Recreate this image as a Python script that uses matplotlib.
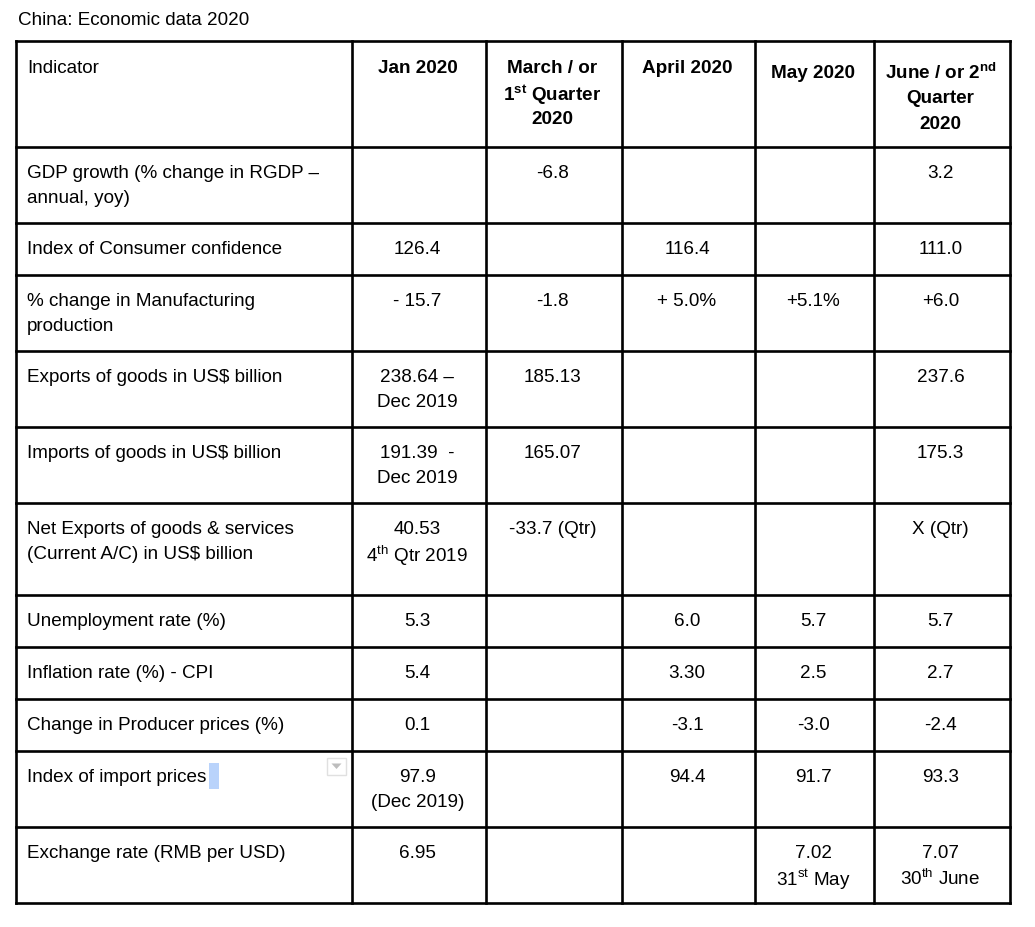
import matplotlib.pyplot as plt
from matplotlib.patches import Rectangle, Polygon

plt.rcParams["font.family"] = ["Liberation Sans", "DejaVu Sans"]
plt.rcParams["mathtext.fontset"] = "custom"
plt.rcParams["mathtext.rm"] = "Liberation Sans"
plt.rcParams["mathtext.bf"] = "Liberation Sans:bold"

# table content
title = "China: Economic data 2020"
headers = ["Indicator", "Jan 2020", "March / or\n1$^{\\mathbf{st}}$ Quarter\n2020",
           "April 2020", "May 2020", "June / or 2$^{\\mathbf{nd}}$\nQuarter\n2020"]
indicators = [
    "GDP growth (% change in RGDP –\nannual, yoy)",
    "Index of Consumer confidence",
    "% change in Manufacturing\nproduction",
    "Exports of goods in US\\$ billion",
    "Imports of goods in US\\$ billion",
    "Net Exports of goods & services\n(Current A/C) in US\\$ billion",
    "Unemployment rate (%)",
    "Inflation rate (%) - CPI",
    "Change in Producer prices (%)",
    "Index of import prices",
    "Exchange rate (RMB per USD)",
]
jan = ["", "126.4", "- 15.7", "238.64 –\nDec 2019", "191.39  -\nDec 2019",
       "40.53\n4$^{\\mathrm{th}}$ Qtr 2019", "5.3", "5.4", "0.1", "97.9\n(Dec 2019)", "6.95"]
march = ["-6.8", "", "-1.8", "185.13", "165.07", "-33.7 (Qtr)", "", "", "", "", ""]
april = ["", "116.4", "+ 5.0%", "", "", "", "6.0", "3.30", "-3.1", "94.4", ""]
may = ["", "", "+5.1%", "", "", "", "5.7", "2.5", "-3.0", "91.7",
       "7.02\n31$^{\\mathrm{st}}$ May"]
june = ["3.2", "111.0", "+6.0", "237.6", "175.3", "X (Qtr)", "5.7", "2.7", "-2.4", "93.3",
        "7.07\n30$^{\\mathrm{th}}$ June"]

# layout (pixels)
col_edges = [16, 352, 486, 622, 755, 874, 1010]
row_edges = [41, 147, 223, 275, 351, 427, 503, 595, 647, 699, 751, 827, 903]
header_offsets = [25, 25, 25, 25, 30, 30]
first_line = 24
line_gap = 25.5
fs = 13.6

fig = plt.figure(figsize=(10.35, 9.27), dpi=100)
ax = fig.add_axes([0, 0, 1, 1])
ax.set_xlim(0, 1035)
ax.set_ylim(927, 0)
ax.axis("off")

ax.text(18, 20, title, fontsize=fs, va="center", ha="left")

lw = 1.9
for x in col_edges:
    ax.plot([x, x], [row_edges[0], row_edges[-1]], color="black", lw=lw, solid_capstyle="projecting")
for y in row_edges:
    ax.plot([col_edges[0], col_edges[-1]], [y, y], color="black", lw=lw, solid_capstyle="projecting")


def cell(text, col, top, offset, bold=False):
    if not text:
        return
    if col == 0:
        x, ha = col_edges[0] + 11, "left"
    else:
        x, ha = (col_edges[col] + col_edges[col + 1]) / 2 - 1.5, "center"
    for i, line in enumerate(text.split("\n")):
        ax.text(x, top + offset + i * line_gap, line, fontsize=fs, ha=ha, va="center_baseline",
                fontweight="bold" if bold else "normal")


for c, h in enumerate(headers):
    cell(h, c, row_edges[0], header_offsets[c], bold=(c > 0))

columns = [indicators, jan, march, april, may, june]
for r in range(len(indicators)):
    for c, vals in enumerate(columns):
        cell(vals[r], c, row_edges[r + 1], first_line)

# dropdown marker and selection highlight from the source screenshot
ax.add_patch(Rectangle((327, 758), 19, 17, facecolor="white", edgecolor="#e0e0e0", lw=1))
ax.add_patch(Polygon([(331.5, 763.5), (341.5, 763.5), (336.5, 769)], closed=True,
                     facecolor="#bdbdbd", edgecolor="none"))
ax.add_patch(Rectangle((209, 763), 10, 26, facecolor="#b9d3fb", edgecolor="none", zorder=0))

fig.savefig("out.png", dpi=100)
